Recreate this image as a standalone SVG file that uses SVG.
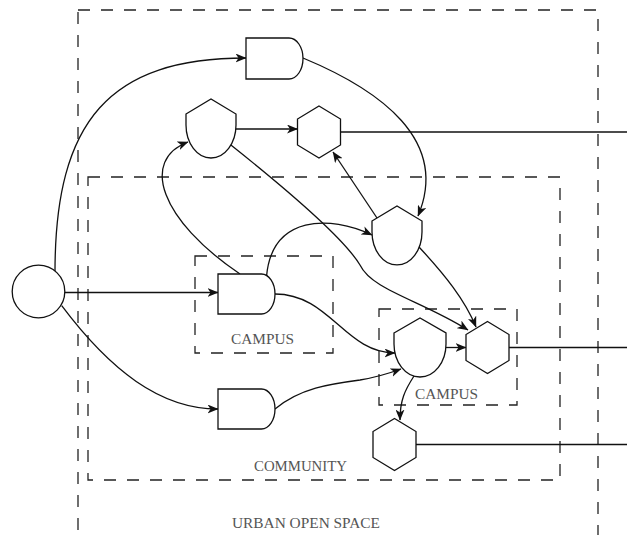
<svg xmlns="http://www.w3.org/2000/svg" width="627" height="535" viewBox="0 0 627 535">
<style>
.zone{fill:none;stroke:#222;stroke-width:1.3;stroke-dasharray:12 11}
.node{fill:#fff;stroke:#111;stroke-width:1.3}
.edge{fill:none;stroke:#111;stroke-width:1.3}
.lbl{font-family:"Liberation Serif","Times New Roman",serif;font-size:15px;fill:#555;text-anchor:middle}
</style>
<defs>
<marker id="arr" viewBox="0 0 11 9" refX="10.5" refY="4.5" markerWidth="11" markerHeight="9" markerUnits="userSpaceOnUse" orient="auto">
<path d="M0,0 L11,4.5 L0,9 L3,4.5 Z" fill="#111"/>
</marker>
</defs>
<rect width="627" height="535" fill="#fff"/>
<g id="zones">
<rect id="urban" class="zone" x="78" y="10" width="520" height="545"/>
<rect id="community" class="zone" x="88" y="177" width="472" height="303"/>
<rect id="campus1" class="zone" x="195" y="256" width="138" height="97"/>
<rect id="campus2" class="zone" x="379" y="309" width="138" height="96"/>
<text class="lbl" x="262.5" y="344" textLength="63" lengthAdjust="spacingAndGlyphs">CAMPUS</text>
<text class="lbl" x="446.5" y="399" textLength="63" lengthAdjust="spacingAndGlyphs">CAMPUS</text>
<text class="lbl" x="300.5" y="471" textLength="93" lengthAdjust="spacingAndGlyphs">COMMUNITY</text>
<text class="lbl" x="306" y="528" textLength="148" lengthAdjust="spacingAndGlyphs">URBAN OPEN SPACE</text>
</g>
<g id="connectors">
<path class="edge" marker-end="url(#arr)" d="M55,272 C55,120 110,58 246,58"/>
<path class="edge" marker-end="url(#arr)" d="M64.8,292.5 L218,292.5"/>
<path class="edge" marker-end="url(#arr)" d="M61.7,305.7 C110,370 160,409 218,409"/>
<path class="edge" marker-end="url(#arr)" d="M303,58 C380,90 450,140 418,216"/>
<path class="edge" marker-end="url(#arr)" d="M235.6,129 L297.5,129"/>
<path class="edge" marker-end="url(#arr)" d="M230.9,145 C300,200 345,240 360,265 C372,290 420,300 468,330"/>
<path class="edge" marker-end="url(#arr)" d="M240,274 C160,220 140,160 188,142"/>
<path class="edge" marker-end="url(#arr)" d="M266.5,276.5 C272,215 330,215 372,235"/>
<path class="edge" marker-end="url(#arr)" d="M275,294 C330,294 345,353 395,353"/>
<path class="edge" marker-end="url(#arr)" d="M275,409 C300,388 330,384 360,380 C378,377 390,373 401,369"/>
<path class="edge" marker-end="url(#arr)" d="M377,218 L333,152"/>
<path class="edge" marker-end="url(#arr)" d="M419,247 C445,275 465,300 476,327"/>
<path class="edge" marker-end="url(#arr)" d="M446,347.5 L466,347.5"/>
<path class="edge" marker-end="url(#arr)" d="M414,376 C405,390 400,400 400,420"/>
<path class="edge" marker-end="url(#arr)" d="M340.5,132 L637,132"/>
<path class="edge" marker-end="url(#arr)" d="M509,347.5 L637,347.5"/>
<path class="edge" marker-end="url(#arr)" d="M416,444.5 L637,444.5"/>
</g>
<g id="source"><circle class="node" cx="38.5" cy="291.5" r="26.3"/></g>
<g id="gate1"><path class="node" d="M246,38 H289 A14,20.5 0 0 1 289,79 H246 Z"/></g>
<g id="gate2"><path class="node" d="M218,274 H261.5 A13.5,20 0 0 1 261.5,314 H218 Z"/></g>
<g id="gate3"><path class="node" d="M218,389 H261.5 A13.5,20 0 0 1 261.5,429 H218 Z"/></g>
<g id="shield1"><path class="node" d="M186,114 L211,99 L236,114 L236,125 A25,33 0 0 1 186,125 Z"/></g>
<g id="shield2"><path class="node" d="M372,221 L397,206 L422,221 L422,232 A25,33 0 0 1 372,232 Z"/></g>
<g id="shield3"><path class="node" d="M394,333 L420,318 L446,333 L446,344 A26,33 0 0 1 394,344 Z"/></g>
<g id="hex1"><polygon class="node" points="319,106 340.5,119 340.5,145 319,158 297.5,145 297.5,119"/></g>
<g id="hex2"><polygon class="node" points="487.5,321.5 509,334.5 509,360.5 487.5,373.5 466,360.5 466,334.5"/></g>
<g id="hex3"><polygon class="node" points="394.5,418.5 416,431.5 416,457.5 394.5,470.5 373,457.5 373,431.5"/></g>
</svg>
